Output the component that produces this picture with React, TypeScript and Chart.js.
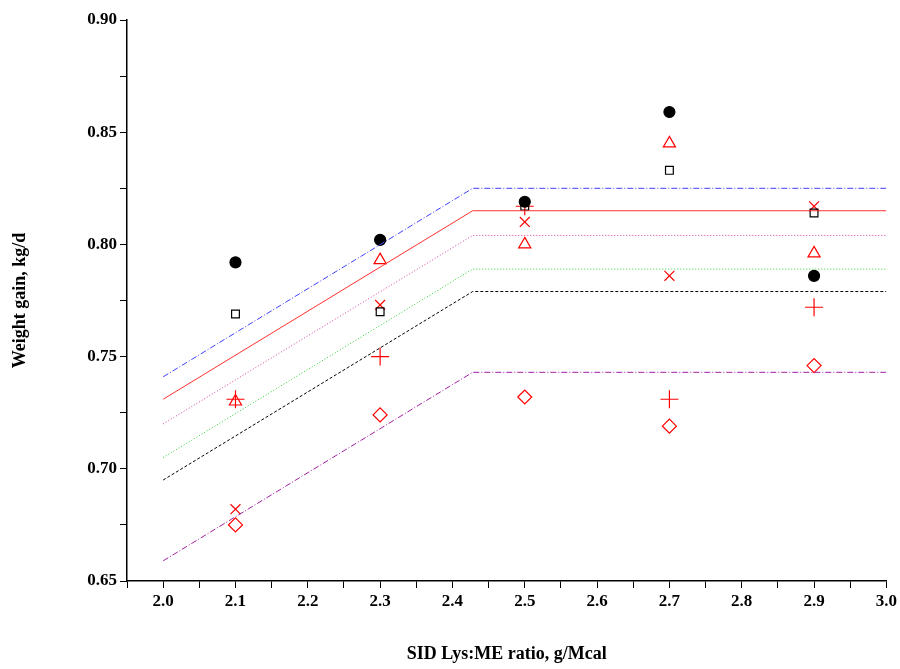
import React, { useEffect, useRef } from "react";
import Chart from "chart.js/auto";

const levels = [2.1, 2.3, 2.5, 2.7, 2.9];
const circleVals = [0.792, 0.802, 0.819, 0.859, 0.786];
const squareVals = [0.769, 0.770, 0.817, 0.833, 0.814];
const triangleVals = [0.730, 0.793, 0.800, 0.845, 0.796];
const crossRotVals = [0.682, 0.773, 0.810, 0.786, 0.817];
const plusVals = [0.731, 0.750, 0.817, 0.731, 0.772];
const diamondVals = [0.675, 0.724, 0.732, 0.719, 0.746];

const lineX = [2.0, 2.428, 3.0];
const blueLine = [0.741, 0.825, 0.825];
const redLine = [0.731, 0.815, 0.815];
const magentaLine = [0.720, 0.804, 0.804];
const greenLine = [0.705, 0.789, 0.789];
const blackLine = [0.695, 0.779, 0.779];
const purpleLine = [0.659, 0.743, 0.743];

const pts = (xs: number[], ys: number[]) => xs.map((x, i) => ({ x, y: ys[i] }));
const font = "'Liberation Serif', 'Times New Roman', serif";

const App: React.FC = () => {
  const ref = useRef<HTMLCanvasElement>(null);
  useEffect(() => {
    document.body.style.margin = "0";
    if (!ref.current) return;
    const line = (ys: number[], color: string, dash: number[], width = 1) => ({
      type: "line" as const,
      data: pts(lineX, ys),
      borderColor: color,
      borderWidth: width,
      borderDash: dash,
      pointRadius: 0,
      showLine: true,
      fill: false,
    });
    const marks = (ys: number[], style: any, color: string, fill: string, r = 6) => ({
      type: "scatter" as const,
      data: pts(levels, ys),
      pointStyle: style,
      pointRadius: r,
      borderColor: color,
      backgroundColor: fill,
      pointBorderWidth: 1.2,
      showLine: false,
    });
    const chart = new Chart(ref.current, {
      type: "scatter",
      data: {
        datasets: [
          line(blueLine, "#4040ff", [6, 2, 1, 2]),
          line(redLine, "#ff3030", []),
          line(magentaLine, "#d040a0", [1, 2]),
          line(greenLine, "#30d030", [1, 2]),
          line(blackLine, "#000000", [3, 2]),
          line(purpleLine, "#a020a0", [6, 2, 1, 2]),
          marks(circleVals, "circle", "#000", "#000", 5.5),
          marks(squareVals, "rect", "#000", "rgba(0,0,0,0)", 5.5),
          marks(triangleVals, "triangle", "#ff0000", "rgba(0,0,0,0)", 7),
          marks(crossRotVals, "crossRot", "#ff0000", "rgba(0,0,0,0)", 7),
          marks(plusVals, "cross", "#ff0000", "rgba(0,0,0,0)", 9),
          marks(diamondVals, "rectRot", "#ff0000", "rgba(0,0,0,0)", 7),
        ] as any,
      },
      options: {
        animation: false,
        responsive: false,
        layout: { padding: { top: 20, right: 12, left: 0, bottom: 0 } },
        plugins: { legend: { display: false }, tooltip: { enabled: false } },
        scales: {
          x: {
            type: "linear",
            min: 1.95,
            max: 3.0,
            afterFit: (s: any) => { s.height = 88; },
            border: { color: "#000", width: 1.5 },
            grid: { display: true, drawOnChartArea: false, color: "#000", tickLength: 7 },
            ticks: {
              stepSize: 0.05,
              color: "#000",
              font: { family: font, size: 17, weight: "bold" },
              callback: (v: any) => {
                const n = Math.round(Number(v) * 100);
                return n % 10 === 0 ? (n / 100).toFixed(1) : "";
              },
            },
            title: {
              display: true,
              text: "SID Lys:ME ratio, g/Mcal",
              color: "#000",
              font: { family: font, size: 18, weight: "bold" },
              padding: { top: 28 },
            },
          },
          y: {
            min: 0.65,
            max: 0.9,
            afterFit: (s: any) => { s.width = 127; },
            border: { color: "#000", width: 1.5 },
            grid: { display: true, drawOnChartArea: false, color: "#000", tickLength: 7 },
            ticks: {
              stepSize: 0.025,
              color: "#000",
              font: { family: font, size: 17, weight: "bold" },
              callback: (v: any) => {
                const n = Math.round(Number(v) * 1000);
                return n % 50 === 0 ? (n / 1000).toFixed(2) : "";
              },
            },
            title: {
              display: true,
              text: "Weight gain, kg/d",
              color: "#000",
              font: { family: font, size: 18, weight: "bold" },
              padding: { top: 10, bottom: 10 },
            },
          },
        },
      },
    });
    return () => chart.destroy();
  }, []);
  return <canvas ref={ref} width={900} height={669} />;
};

export default App;
